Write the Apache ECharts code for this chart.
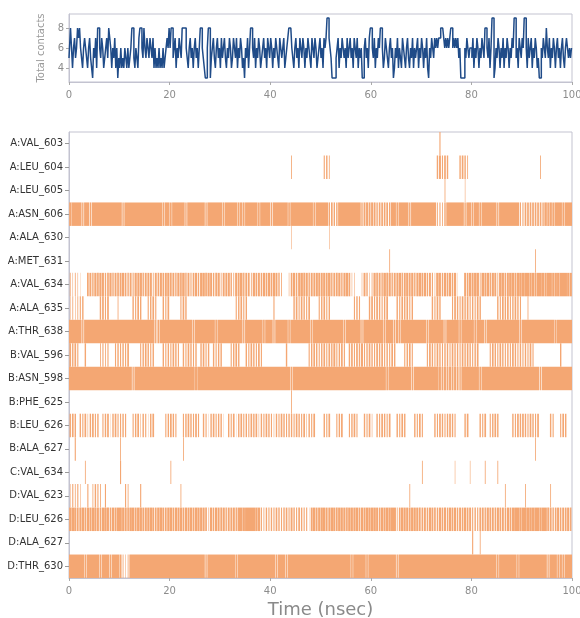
<!DOCTYPE html>
<html>
<head>
<meta charset="utf-8">
<script src="https://cdn.jsdelivr.net/npm/echarts@6/dist/echarts.min.js"></script>
<style>
  html, body { margin: 0; padding: 0; background: #ffffff; }
  #chart { width: 580px; height: 618px; }
</style>
</head>
<body>
<div id="chart"></div>
<script>
// Residues in contact, top to bottom
const residues = [
  'A:VAL_603', 'A:LEU_604', 'A:LEU_605', 'A:ASN_606', 'A:ALA_630', 'A:MET_631',
  'A:VAL_634', 'A:ALA_635', 'A:THR_638', 'B:VAL_596', 'B:ASN_598', 'B:PHE_625',
  'B:LEU_626', 'B:ALA_627', 'C:VAL_634', 'D:VAL_623', 'D:LEU_626', 'D:ALA_627',
  'D:THR_630'
];

// Contact occupancy per residue: one digit per 0.5 nsec window (0 = none, 9 = every frame),
// grouped in blocks of 10 nsec
const binWidth = 0.5;
const contactTrace = [
  '00000000000000000000 00000000000000000000 00000000000000000000 00000000000000000000 00000000000000000000 00000000000000000000 00000000000000000000 00000004000000000000 00000000000000000000 00000000000000000000',
  '00000000000000000000 00000000000000000000 00000000000000000000 00000000000000000000 00000000300000000000 04530000000000000000 00000000000000000000 00000057465000056530 00000000000000000000 00000003000000000000',
  '00000000000000000000 00000000000000000000 00000000000000000000 00000000000000000000 00000000000000000000 00000000000000000000 00000000000000000000 00000000030000000200 00000000000000000000 00000000000000000000',
  '89999599599999999999 95999999999999999699 69999959999999599999 96999996969999969999 59999996999999999699 99956559999999995777 77566665996999959999 99999934359999999599 69969999995999999994 46666666596969996999',
  '00000000000000000000 00000000000000000000 00000000000000000000 00000000000000000000 00000000200000000000 00020000000000000000 00000000000000000000 00000000000000000000 00000000000000000000 00000000000000000000',
  '00000000000000000000 00000000000000000000 00000000000000000000 00000000000000000000 00000000000000000000 00000000000000000000 00000003000000000000 00000000000000000000 00000000000000000000 00000300000000000000',
  '32321006758687568576 78657486957683758678 67586957468579687568 37685386957638675868 68753002685796857687 78695768579622002752 38675968576957868579 68574297586858100768 78939695873986798789 89989799889979899988',
  '23234500000056460003 00000546500456400546 00004650000000000000 00000045645000000000 04000000056465460004 56450000000004540005 64654560005465645000 00005465000046546564 54650000005465645654 00300000000000000000',
  '99999599999999999999 99999999999999569999 99999999969999999969 99999999959999999699 95999996999999996999 99999999969999995999 99999699959699999999 99699999959999969999 96999599999999999996 99999999999997999999',
  '65640050000034340045 45460000456545000545 46540546545056450545 50004565005465464000 00000050000000045654 56465745640564657456 54656454650004564000 00465465455465546565 45600004654654546545 45464000000000050000',
  '99999999999999999999 99999599999999999999 99999999997999999999 99999999999999999999 99999999699999999999 99999999999999999999 99999969999999995999 99999997777777759999 99969999999999999999 99999995999999999999',
  '00000000000000000000 00000000000000000000 00000000000000000000 00000000000000000000 00000000300000000000 00000000000000000000 00000000000000000000 00000000000000000000 00000000000000000000 00000000000000000000',
  '56505462564504561564 45400456254156000045 65400456546405415645 51054615645465625465 42546545546546254600 05460045600456400546 20546546005465000546 40000546545654000560 00054604565000005465 65465460000540046500',
  '00400000000000000000 30000000000000000000 00000300000000000000 00000000000000000000 00000000000000000000 00000000000000000000 00000000000000000000 00000000000000000000 00000000000000000000 00000300000000000000',
  '00000030000000000000 40000000000000000000 30000000000000000000 00000000000000000000 00000000000000000000 00000000000000000000 00000000000000000000 30000000000002000002 00000300003000000000 00000000000000000000',
  '24342004035430400000 00430000400000000000 00003000000000000000 00000000000000000000 00000000000000000000 00000000000000000000 00000000000000030000 00000000000000000000 00000000000003000000 03000000000300000000',
  '89867968798768976879 97869878968797689768 96879687969878629587 68576859989999894354 54654564754654417968 89679869786978968798 89769798993697869786 67587658675968576867 45467586758675868998 99898998996756857685',
  '00000000000000000000 00000000000000000000 00000000000000000000 00000000000000000000 00000000000000000000 00000000000000000000 00000000000000000000 00000000000000000000 40030000000000000000 00000000000000000000',
  '99999969999969996999 73239999999999999999 99999999999999599999 99999969999999999999 99699969999999999999 99999999999969999969 99999999995999999999 99999999999999999999 99999999996999999969 99999999995999696999'
];

// Total number of contacts, sampled every 0.2 nsec (one row per 5 nsec)
const sampleStep = 0.2;
const totalContacts = [
  5,6,8,6,4,6,7,5,6,8,7,8,6,5,4,6,7,6,5,4,6,7,5,4,3,
  6,5,7,4,8,8,6,5,7,6,4,5,6,7,5,8,7,6,4,6,5,7,4,6,3,
  5,4,6,4,5,4,6,5,4,6,4,5,6,8,8,5,4,6,5,4,7,8,8,6,5,
  8,6,5,7,6,5,7,6,5,7,4,6,4,5,4,6,4,5,4,6,4,5,6,7,6,
  8,6,8,8,5,6,7,4,6,5,7,6,5,8,8,8,8,6,5,4,6,7,5,6,4,
  6,7,5,6,4,6,8,8,6,5,4,3,3,6,8,8,3,5,6,7,5,4,6,7,5,
  6,4,7,5,6,7,5,4,6,5,7,6,4,5,7,6,5,7,4,6,5,7,6,4,5,
  3,6,5,7,4,6,8,8,6,5,7,4,6,5,7,6,4,5,6,7,5,6,4,7,6,
  5,7,6,4,6,5,7,6,5,4,7,6,5,6,7,4,5,6,7,8,8,8,6,5,4,
  6,7,5,6,4,7,6,5,7,6,4,6,5,7,6,5,4,7,6,5,7,6,4,5,6,
  7,5,6,4,7,6,7,9,9,7,6,5,3,3,3,3,5,6,7,4,6,5,7,6,5,
  6,4,7,5,6,7,5,6,4,7,6,5,7,4,6,5,6,3,3,6,7,5,6,4,7,
  8,8,6,5,7,4,6,5,7,6,8,8,6,4,5,7,6,5,4,6,7,5,6,3,4,
  6,5,7,4,6,5,4,7,6,5,4,6,7,5,4,6,5,7,4,6,5,6,7,4,6,
  5,7,6,4,6,5,7,4,3,6,5,7,6,5,7,6,7,6,7,7,8,8,8,7,6,
  7,6,7,6,7,8,8,6,7,6,7,6,7,5,6,3,3,3,3,6,5,7,6,5,6,
  6,5,7,4,6,5,7,6,4,6,5,7,6,5,8,8,6,5,7,4,6,9,9,3,4,
  6,5,7,6,4,6,5,7,4,6,5,7,6,4,6,5,7,6,9,9,5,6,4,7,6,
  5,7,6,9,9,6,4,7,5,6,7,4,6,5,7,6,4,5,3,3,6,5,7,6,5,
  8,6,5,7,4,6,5,7,6,4,6,7,5,6,4,6,7,5,4,6,7,6,5,6,5,6
];

const timeTicks = [0, 20, 40, 60, 80, 100];
const contactTicks = [4, 6, 8];

const contactColor = '#f4a773';
const lineColor = '#1f4b88';
const frameColor = '#c3c3d0';
const font = 'DejaVu Sans';

// Build rectangles: runs of full occupancy are merged, partial windows become thinner stripes
const spans = [];
contactTrace.forEach((raw, row) => {
  const s = raw.replace(/ /g, '');
  let k = 0;
  while (k < s.length) {
    const lv = +s[k];
    if (lv === 0) { k++; continue; }
    if (lv === 9) {
      let j = k;
      while (j < s.length && s[j] === '9') j++;
      spans.push([k * binWidth, j * binWidth, row, 1]);
      k = j;
    } else {
      spans.push([k * binWidth, (k + 1) * binWidth, row, lv / 9]);
      k++;
    }
  }
});

const linePoints = totalContacts.map((v, i) => [i * sampleStep, v]);

const chart = echarts.init(document.getElementById('chart'), null, { renderer: 'canvas' });

const timeAxisCommon = {
  type: 'value',
  min: timeTicks[0],
  max: timeTicks[timeTicks.length - 1],
  interval: timeTicks[1] - timeTicks[0],
  axisLine: { show: true, lineStyle: { color: frameColor } },
  axisTick: { show: true, length: 3, lineStyle: { color: '#aaaaaa' } },
  axisLabel: { color: '#8c8c8c', fontSize: 10, fontFamily: font, margin: 8 },
  splitLine: { show: false }
};

chart.setOption({
  animation: false,
  backgroundColor: '#ffffff',
  grid: [
    { left: 69, right: 8, top: 14, height: 68, containLabel: false, outerBoundsMode: 'none',
      show: true, borderColor: frameColor, borderWidth: 1 },
    { left: 69, right: 8, top: 132, height: 446, containLabel: false, outerBoundsMode: 'none',
      show: true, borderColor: frameColor, borderWidth: 1 }
  ],
  xAxis: [
    Object.assign({ gridIndex: 0 }, timeAxisCommon),
    Object.assign({ gridIndex: 1 }, timeAxisCommon, {
      name: 'Time (nsec)',
      nameLocation: 'middle',
      nameGap: 21,
      nameTextStyle: { color: '#8a8a8a', fontSize: 18, fontFamily: font }
    })
  ],
  yAxis: [
    {
      gridIndex: 0,
      type: 'value',
      min: 2.6,
      max: 9.4,
      name: 'Total contacts',
      nameLocation: 'middle',
      nameGap: 18,
      nameTextStyle: { color: '#9a9a9a', fontSize: 10, fontFamily: font },
      axisLine: { show: true, lineStyle: { color: frameColor } },
      axisTick: { show: true, length: 3, customValues: contactTicks, lineStyle: { color: '#aaaaaa' } },
      axisLabel: { color: '#8c8c8c', fontSize: 10, fontFamily: font, margin: 5, customValues: contactTicks },
      splitLine: { show: false }
    },
    {
      gridIndex: 1,
      type: 'category',
      data: residues,
      inverse: true,
      boundaryGap: true,
      axisLine: { show: true, lineStyle: { color: frameColor } },
      axisTick: { show: true, alignWithLabel: true, length: 4, lineStyle: { color: '#999999' } },
      axisLabel: { color: '#333333', fontSize: 10, fontFamily: font, margin: 6 },
      splitLine: { show: false }
    }
  ],
  series: [
    {
      type: 'line',
      xAxisIndex: 0,
      yAxisIndex: 0,
      data: linePoints,
      step: 'middle',
      showSymbol: false,
      lineStyle: { color: lineColor, width: 1.5 },
      clip: true
    },
    {
      type: 'custom',
      xAxisIndex: 1,
      yAxisIndex: 1,
      data: spans,
      encode: { x: [0, 1], y: 2 },
      clip: true,
      renderItem: function (params, api) {
        const t0 = api.value(0), t1 = api.value(1), row = api.value(2), f = api.value(3);
        const p0 = api.coord([t0, row]);
        const p1 = api.coord([t1, row]);
        const h = api.size([0, 1])[1];
        const w = p1[0] - p0[0];
        const ww = w * f;
        return {
          type: 'rect',
          shape: { x: p0[0] + (w - ww) / 2, y: p0[1] - h / 2, width: ww, height: h },
          style: { fill: contactColor }
        };
      }
    }
  ]
});
</script>
</body>
</html>
